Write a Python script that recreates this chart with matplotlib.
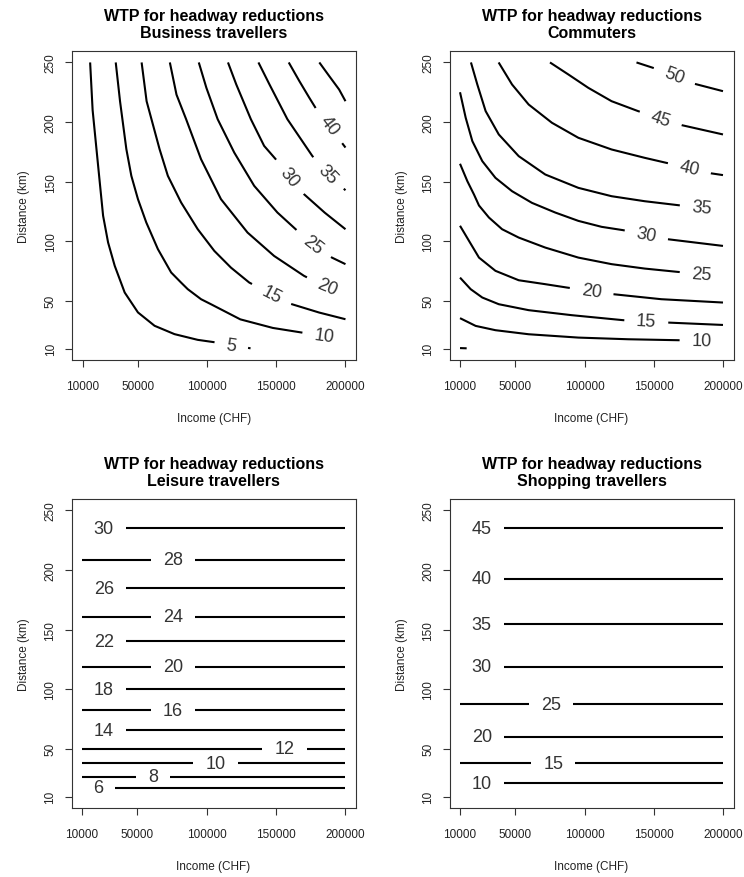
import matplotlib
matplotlib.use("Agg")
import matplotlib.pyplot as plt
from matplotlib.contour import ContourSet
import numpy as np

# contour levels: income (CHF) and distance (km) points per level
bus_levels = [5, 10, 15, 20, 25, 30, 35, 40, 45]
bus_income = [
    [15500, 17300, 20080, 22470, 24870, 28470, 33270, 40470, 50060, 62060, 76450, 93250, 107200, 131400],
    [34000, 37100, 41670, 45270, 50060, 56060, 64460, 74050, 81250, 86050, 95640, 102800, 124000, 147500, 168600, 184600, 200000],
    [52700, 56300, 65660, 71650, 81250, 93250, 105240, 117240, 130430, 146500, 159900, 181000, 200000],
    [73100, 77900, 84850, 95640, 110040, 129230, 148420, 170010, 184600, 200000],
    [94000, 99500, 107640, 119630, 134030, 150820, 164020, 176300, 190200, 200000],
    [115100, 121100, 131630, 141220, 149620, 159220, 170010, 185000, 200000],
    [137100, 145100, 158020, 176010, 186800, 200000],
    [159000, 166700, 173900, 179800, 188000, 200000],
    [181100, 188300, 195400, 200000],
]
bus_dist = [
    [250, 210, 177.3, 149.3, 121.4, 99, 79.4, 57, 40.3, 29.1, 22.1, 17.3, 15, 10.2],
    [250, 217.5, 177.3, 154.9, 135.3, 115.8, 93.4, 73.8, 65.3, 59.8, 51.4, 47.2, 34.5, 27.3, 23.4, 20.3, 18.5],
    [250, 217.5, 177.3, 154.9, 132.5, 110.1, 91.9, 77.9, 65.4, 55.5, 47.7, 40.2, 34.6],
    [250, 223, 202.4, 168.8, 135.3, 107.3, 87.7, 71, 62.5, 55.6],
    [250, 228.7, 202.4, 174.4, 146.5, 124.1, 110.1, 97, 86.3, 80.8],
    [250, 231.5, 202.4, 180, 168.8, 153.5, 139.5, 124, 110.1],
    [250, 231.5, 202.4, 171.6, 156.2, 142.8],
    [250, 234.3, 220.3, 209.2, 197, 178.6],
    [250, 238.5, 227.3, 217.5],
]
bus_labels = [(117500, 12.9), (184600, 20.3), (146500, 55.5), (186500, 61.7), (176300, 97),
              (159220, 153.5), (186800, 156.2), (188000, 197)]

com_levels = [5, 10, 15, 20, 25, 30, 35, 40, 45, 50]
com_income = [
    [10000, 14800],
    [10000, 21300, 35600, 59600, 95500, 131500, 167400, 184600, 200000],
    [10000, 17700, 26100, 38000, 59600, 90700, 127900, 144600, 160200, 200000],
    [10000, 16500, 23700, 35600, 52400, 71600, 87100, 105100, 120700, 155400, 200000],
    [10000, 15300, 20100, 23700, 30900, 40400, 52400, 71600, 95500, 119500, 143400, 167400, 184600, 200000],
    [10000, 14100, 18900, 26100, 35600, 47600, 62000, 78800, 95500, 112300, 127900, 144600, 160200, 200000],
    [17900, 22500, 28500, 38000, 52400, 71600, 95500, 119500, 143400, 167400, 184600, 200000],
    [37900, 47600, 59600, 76400, 95500, 119500, 143400, 159000, 175800, 191300, 200000],
    [75000, 88300, 102700, 119500, 138600, 155000, 170200, 200000],
    [137500, 149400, 165000, 179400, 200000],
]
com_dist = [
    [10.4, 10.2],
    [35.5, 29, 25.4, 22, 19.2, 17.8, 17, 16.6, 16.2],
    [69.5, 59.8, 52.8, 47.2, 42.2, 38, 33.8, 33, 31.8, 29.8],
    [113, 100.3, 86.3, 75.2, 67.3, 64, 61.2, 58.2, 55.6, 51.4, 48.6],
    [165, 150.4, 139.2, 130, 119.9, 110.1, 103.1, 94.7, 86.3, 80.8, 77.1, 74.3, 72.7, 71.5],
    [225, 203.6, 184, 167.2, 153.2, 142, 132.2, 124.1, 117.1, 112.1, 109.3, 105.2, 101.7, 96.1],
    [250, 231.5, 209.2, 189.6, 171.4, 156, 144.8, 137.8, 133.6, 130.3, 127.9, 126.5],
    [250, 231.5, 214.7, 199.4, 186.8, 177, 170, 165.8, 161.6, 157, 155.5],
    [250, 239.9, 228.7, 217.5, 209.2, 203, 197.4, 189.6],
    [250, 245.5, 239, 232.1, 225.9],
]
com_labels = [(184600, 16.6), (144600, 33), (105100, 58.2), (184600, 72.7), (144600, 105.2),
              (184600, 127.9), (175800, 161.6), (155000, 203), (165000, 239)]

# leisure and shopping: WTP depends on distance only (horizontal contours)
lei_levels = [6, 8, 10, 12, 14, 16, 18, 20, 22, 24, 26, 28, 30]
lei_dist = [17.5, 26.5, 37.8, 50, 65.5, 82.3, 100.1, 118.8, 140.1, 161, 184.8, 208.6, 235.2]
lei_label_x = [21700, 61300, 106400, 156300, 25700, 75700, 25700, 75700, 25700, 75700, 25700, 75700, 25700]

shop_levels = [10, 15, 20, 25, 30, 35, 40, 45]
shop_dist = [21, 37.8, 60.3, 87.5, 118.8, 154.6, 192.6, 235.2]
shop_label_x = [25700, 77500, 25700, 76000, 25700, 25700, 25700, 25700]

income_min, income_max = 10000, 200000
xticks = [10000, 50000, 100000, 150000, 200000]
yticks = [10, 50, 100, 150, 200, 250]

plt.rcParams['font.family'] = ['Liberation Sans', 'DejaVu Sans']

fig = plt.figure(figsize=(7.44, 8.78), dpi=100)
W, H = 744, 878


def make_axes(left, top):
    # left / top edges of the plot box in pixels
    return fig.add_axes([left / W, 1 - (top + 309) / H, 284 / W, 309 / H])


def panel(ax, subtitle, levels, xs, ys, labels):
    segs = [[np.column_stack([x, y])] for x, y in zip(xs, ys)]
    cs = ContourSet(ax, levels, segs, colors='black', linewidths=1.5)
    ax.set_xlim(2400, 207600)
    ax.set_ylim(0.4, 259.6)
    ax.clabel(cs, fmt='%d', fontsize=13, inline=True, inline_spacing=12,
              manual=labels, colors='#333333')
    ax.set_xticks(xticks)
    ax.set_xticklabels([str(t) for t in xticks])
    ax.set_yticks(yticks)
    ax.tick_params(direction='out', length=5, width=0.8, color='#333333',
                   labelsize=8.5, labelcolor='#222222')
    ax.tick_params(axis='x', pad=9.5)
    ax.tick_params(axis='y', labelrotation=90, pad=6)
    for lab in ax.get_yticklabels():
        lab.set_va('center')
    for s in ax.spines.values():
        s.set_color('#333333')
        s.set_linewidth(0.8)
    ax.set_xlabel('Income (CHF)', fontsize=8.5, color='#222222', labelpad=14.5)
    ax.set_ylabel('Distance (km)', fontsize=8.5, color='#222222', labelpad=10.5)
    ax.set_title('WTP for headway reductions\n' + subtitle, fontweight='bold',
                 fontsize=11.5, pad=10, linespacing=1.2)


ax1 = make_axes(72, 52)
panel(ax1, 'Business travellers', bus_levels, bus_income, bus_dist, bus_labels)

ax2 = make_axes(449.5, 52)
panel(ax2, 'Commuters', com_levels, com_income, com_dist, com_labels)

ax3 = make_axes(71.5, 500)
panel(ax3, 'Leisure travellers', lei_levels,
      [[income_min, income_max] for d in lei_dist], [[d, d] for d in lei_dist],
      list(zip(lei_label_x, lei_dist)))

ax4 = make_axes(449.5, 500)
panel(ax4, 'Shopping travellers', shop_levels,
      [[income_min, income_max] for d in shop_dist], [[d, d] for d in shop_dist],
      list(zip(shop_label_x, shop_dist)))

fig.savefig('out.png', dpi=100)
